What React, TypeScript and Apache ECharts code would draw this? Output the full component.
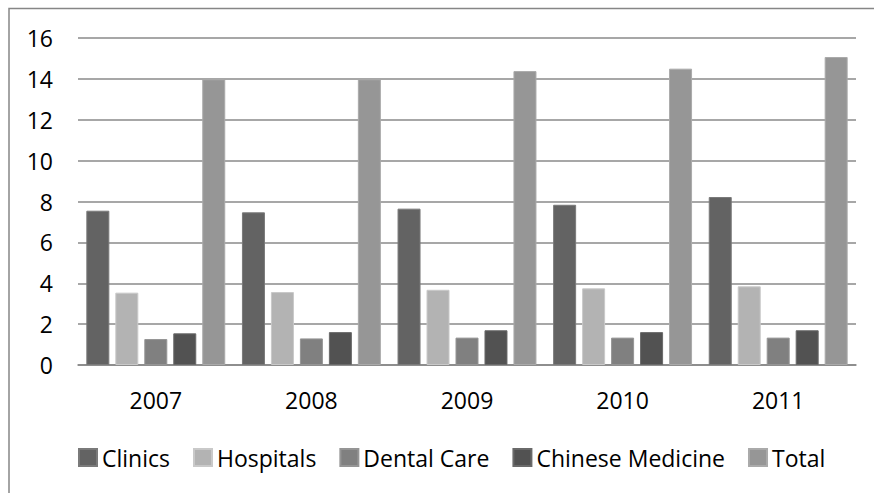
import React, { useEffect, useRef } from "react";
import * as echarts from "echarts";

const years = ["2007", "2008", "2009", "2010", "2011"];
const seriesNames = ["Clinics", "Hospitals", "Dental Care", "Chinese Medicine", "Total"];
const clinics = [7.55, 7.47, 7.65, 7.84, 8.22];
const hospitals = [3.54, 3.57, 3.68, 3.75, 3.85];
const dental = [1.27, 1.3, 1.34, 1.34, 1.34];
const chinese = [1.55, 1.61, 1.7, 1.61, 1.7];
const total = [13.98, 13.98, 14.38, 14.5, 15.07];
const seriesValues = [clinics, hospitals, dental, chinese, total];
const colors = ["#636363", "#b3b3b3", "#808080", "#525252", "#969696"];
const borders = ["#7a7a7a", "#c9c9c9", "#959595", "#6a6a6a", "#aaaaaa"];

const FONT = "'Open Sans', 'Noto Sans', sans-serif";

export default function App() {
  const ref = useRef<HTMLDivElement>(null);
  useEffect(() => {
    if (!ref.current) return;
    const chart = echarts.init(ref.current, null, { renderer: "svg" });
    chart.setOption({
      animation: false,
      backgroundColor: "#ffffff",
      textStyle: { fontFamily: FONT },
      graphic: [
        {
          type: "rect",
          shape: { x: 9, y: 8.5, width: 900, height: 520 },
          style: { fill: "none", stroke: "#868686", lineWidth: 1.5 },
          silent: true,
        },
      ],
      grid: { left: 78, right: 18, top: 38, bottom: 128 },
      legend: {
        left: 78,
        top: 446,
        padding: 0,
        itemWidth: 18,
        itemHeight: 17,
        itemGap: 23,
        icon: "rect",
        textStyle: { fontFamily: FONT, fontSize: 23, color: "#000" },
        data: seriesNames,
      },
      xAxis: {
        type: "category",
        data: years,
        axisTick: { show: false },
        axisLine: { lineStyle: { color: "#868686", width: 1.5 } },
        axisLabel: { fontFamily: FONT, fontSize: 23, color: "#000", margin: 23 },
      },
      yAxis: {
        type: "value",
        min: 0,
        max: 16,
        interval: 2,
        axisLine: { show: false },
        axisTick: { show: false },
        splitLine: { lineStyle: { color: "#8a8a8a", width: 1.5 } },
        axisLabel: { fontFamily: FONT, fontSize: 23, color: "#000", margin: 25 },
      },
      series: seriesNames.map((name, i) => ({
        name,
        type: "bar",
        data: seriesValues[i],
        barWidth: 23,
        barGap: "26%",
        itemStyle: { color: colors[i], borderColor: borders[i], borderWidth: 1 },
      })),
    });
    return () => chart.dispose();
  }, []);
  return (
    <div
      ref={ref}
      style={{ position: "fixed", left: 0, top: 0, width: 874, height: 493 }}
    />
  );
}
